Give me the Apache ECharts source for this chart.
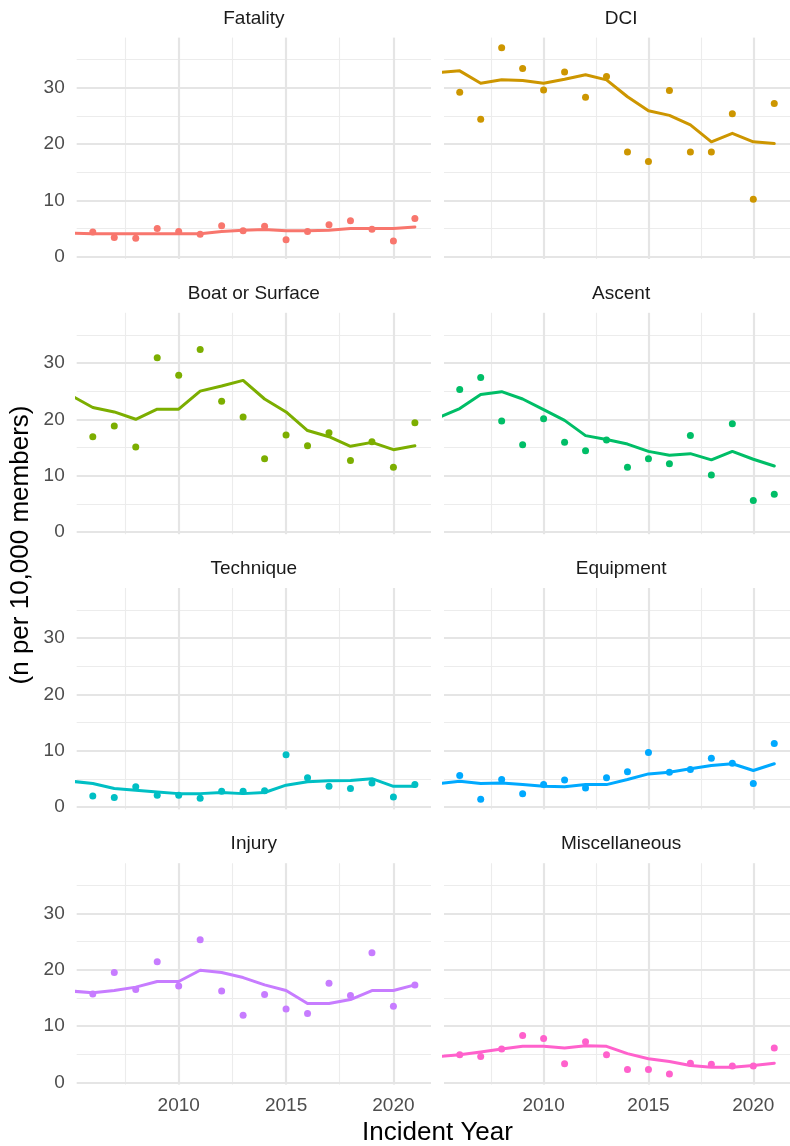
<!DOCTYPE html>
<html>
<head>
<meta charset="utf-8">
<script src="https://cdn.jsdelivr.net/npm/echarts@6/dist/echarts.min.js"></script>
<style>
html,body{margin:0;padding:0;background:#fff;}
#chart{width:790px;height:1146px;}
</style>
</head>
<body>
<div id="chart"></div>
<script>
// ---- Data ----
const pointYears = [2006,2007,2008,2009,2010,2011,2012,2013,2014,2015,2016,2017,2018,2019,2020,2021];
const lineYears = [2005,2006,2007,2008,2009,2010,2011,2012,2013,2014,2015,2016,2017,2018,2019,2020,2021];
const facetNames = ["Fatality","DCI","Boat or Surface","Ascent","Technique","Equipment","Injury","Miscellaneous"];
const facetColors = ["#F8766D","#CD9600","#7CAE00","#00BE67","#00BFC4","#00A9FF","#C77CFF","#FF61CC"];

const fatalityPts = [4.4,3.4,3.3,5.0,4.5,4.0,5.5,4.6,5.4,3.0,4.5,5.7,6.4,4.9,2.8,6.8];
const fatalityLine = [4.2,4.1,4.1,4.1,4.1,4.1,4.1,4.5,4.7,4.85,4.6,4.6,4.7,5.0,5.0,5.0,5.3];

const dciPts = [29.2,24.4,37.1,33.4,29.6,32.8,28.3,32.0,18.6,16.9,29.5,18.6,18.6,25.4,10.2,27.2];
const dciLine = [32.7,33.0,30.8,31.4,31.3,30.8,31.5,32.3,31.4,28.4,25.9,25.1,23.4,20.4,21.9,20.4,20.1];

const boatPts = [16.9,18.8,15.1,30.9,27.8,32.4,23.2,20.4,13.0,17.2,15.3,17.6,12.7,16.0,11.5,19.4];
const boatLine = [24.2,22.1,21.3,20.0,21.8,21.8,25.0,25.9,26.9,23.6,21.3,18.0,16.9,15.2,15.9,14.6,15.3];

const ascentPts = [25.3,27.4,19.7,15.5,20.1,15.9,14.4,16.3,11.5,13.0,12.1,17.1,10.1,19.2,5.6,6.7];
const ascentLine = [20.3,21.9,24.4,24.9,23.6,21.7,19.8,17.1,16.4,15.6,14.3,13.6,13.9,12.8,14.3,12.9,11.7];

const techniquePts = [2.0,1.7,3.6,2.1,2.1,1.6,2.8,2.8,2.9,9.3,5.2,3.7,3.3,4.3,1.8,4.0];
const techniqueLine = [4.6,4.2,3.3,3.0,2.7,2.4,2.4,2.6,2.4,2.6,3.9,4.5,4.7,4.75,5.05,3.7,3.7];

const equipmentPts = [5.6,1.4,4.9,2.4,4.0,4.8,3.4,5.2,6.3,9.7,6.2,6.7,8.7,7.8,4.2,11.3];
const equipmentLine = [4.2,4.6,4.2,4.3,4.0,3.7,3.6,4.0,4.0,4.9,5.9,6.2,6.8,7.4,7.7,6.5,7.7];

const injuryPts = [15.7,19.5,16.5,21.4,17.1,25.3,16.2,11.9,15.6,13.0,12.2,17.6,15.4,23.0,13.5,17.3];
const injuryLine = [16.2,15.9,16.3,16.9,17.9,17.9,19.9,19.5,18.6,17.3,16.3,14.0,14.0,14.7,16.3,16.3,17.3];

const miscPts = [4.9,4.6,5.9,8.3,7.8,3.3,7.2,4.9,2.3,2.3,1.5,3.4,3.2,2.9,2.9,6.1];
const miscLine = [4.6,4.9,5.4,5.9,6.4,6.4,6.1,6.5,6.4,5.1,4.2,3.7,3.0,2.7,2.7,3.0,3.4];

const allPts = [fatalityPts,dciPts,boatPts,ascentPts,techniquePts,equipmentPts,injuryPts,miscPts];
const allLines = [fatalityLine,dciLine,boatLine,ascentLine,techniqueLine,equipmentLine,injuryLine,miscLine];

const yTickValues = [0,10,20,30];
const yMinorValues = [5,15,25,35];
const xTickValues = [2010,2015,2020];
const xMinorValues = [2007.5,2012.5,2017.5];

// ---- Layout ----
const FONT = "'Liberation Sans', Arial, Helvetica, sans-serif";
const colLeft = [76.7, 444.0];
const panelW = 354.3;
const rowTop = [37.6, 312.8, 588.0, 863.2];
const panelH = 221.4;
const X_MIN = 2005.25, X_MAX = 2021.75;
const Y_MIN = -0.4, Y_MAX = 38.9;

const grids = [], xAxes = [], yAxes = [], series = [], graphics = [];

for (let i = 0; i < 8; i++) {
  const col = i % 2, row = Math.floor(i / 2);
  grids.push({left: colLeft[col], top: rowTop[row], width: panelW, height: panelH, containLabel: false});
  const bottomRow = row === 3;
  xAxes.push({
    type: 'value', gridIndex: i, min: X_MIN, max: X_MAX,
    axisLine: {show: false}, axisTick: {show: false}, splitLine: {show: false},
    axisLabel: {
      show: bottomRow, customValues: xTickValues, margin: 12,
      color: '#4d4d4d', fontSize: 19, fontFamily: FONT,
      formatter: v => String(v)
    }
  });
  yAxes.push({
    type: 'value', gridIndex: i, min: Y_MIN, max: Y_MAX,
    axisLine: {show: false}, axisTick: {show: false}, splitLine: {show: false},
    axisLabel: {
      show: col === 0, customValues: yTickValues, margin: 12,
      color: '#4d4d4d', fontSize: 19, fontFamily: FONT,
      formatter: v => String(v)
    }
  });
  // gridlines
  const ml = [];
  yMinorValues.forEach(v => ml.push({yAxis: v, lineStyle: {color: '#ececec', width: 1.1}}));
  xMinorValues.forEach(v => ml.push({xAxis: v, lineStyle: {color: '#ececec', width: 1.1}}));
  yTickValues.forEach(v => ml.push({yAxis: v, lineStyle: {color: '#e5e5e5', width: 2.2}}));
  xTickValues.forEach(v => ml.push({xAxis: v, lineStyle: {color: '#e5e5e5', width: 2.2}}));
  series.push({
    type: 'line', xAxisIndex: i, yAxisIndex: i, data: [], z: 0, silent: true,
    markLine: {
      z: 0, silent: true, symbol: ['none','none'], label: {show: false},
      animation: false, emphasis: {disabled: true},
      lineStyle: {type: 'solid'}, data: ml
    }
  });
  series.push({
    type: 'scatter', xAxisIndex: i, yAxisIndex: i, z: 2,
    symbol: 'circle', symbolSize: 7,
    itemStyle: {color: facetColors[i], opacity: 1},
    data: pointYears.map((y, k) => [y, allPts[i][k]])
  });
  series.push({
    type: 'line', xAxisIndex: i, yAxisIndex: i, z: 3,
    showSymbol: false, symbol: 'none', smooth: false, clip: true,
    lineStyle: {color: facetColors[i], width: 3, cap: 'round', join: 'round'},
    data: lineYears.map((y, k) => [y, allLines[i][k]])
  });
  graphics.push({
    type: 'text', x: colLeft[col] + panelW / 2, y: rowTop[row] - 19,
    style: {text: facetNames[i], fill: '#1a1a1a', font: '19px ' + FONT, align: 'center', verticalAlign: 'middle'}
  });
}

graphics.push({
  type: 'text', x: 437.5, y: 1133,
  style: {text: 'Incident Year', fill: '#000', font: '26px ' + FONT, align: 'center', verticalAlign: 'middle'}
});
graphics.push({
  type: 'text', x: 21, y: 545, rotation: Math.PI / 2,
  style: {text: '(n per 10,000 members)', fill: '#000', font: '26px ' + FONT, align: 'center', verticalAlign: 'middle'}
});

const chart = echarts.init(document.getElementById('chart'), null, {renderer: 'canvas', devicePixelRatio: 1});
chart.setOption({
  animation: false,
  backgroundColor: '#ffffff',
  grid: grids, xAxis: xAxes, yAxis: yAxes, series: series, graphic: graphics
});
</script>
</body>
</html>
